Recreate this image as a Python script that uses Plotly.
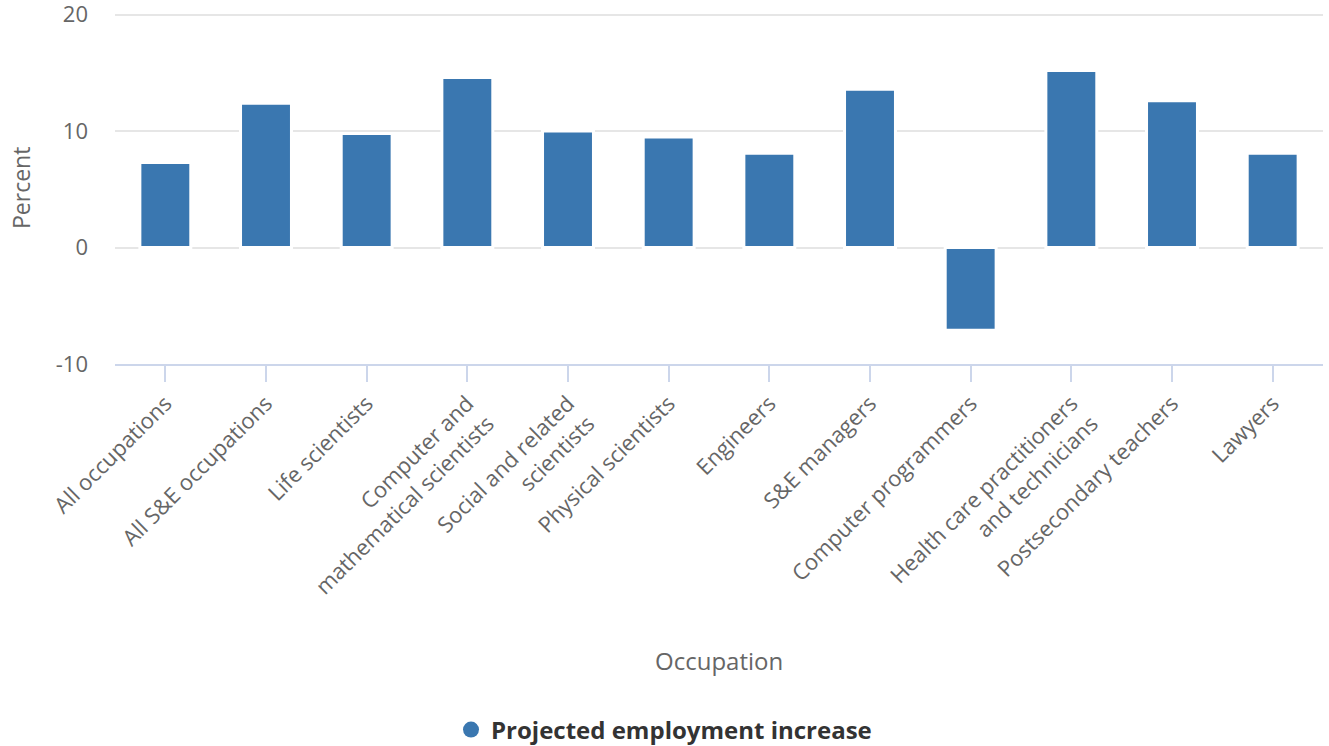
import plotly.graph_objects as go

categories = [
    "All occupations",
    "All S&E occupations",
    "Life scientists",
    "Computer and<br>mathematical scientists",
    "Social and related<br>scientists",
    "Physical scientists",
    "Engineers",
    "S&E managers",
    "Computer programmers",
    "Health care practitioners<br>and technicians",
    "Postsecondary teachers",
    "Lawyers",
]
values = [7.3, 12.4, 9.8, 14.6, 10.0, 9.5, 8.1, 13.6, -7.1, 15.2, 12.6, 8.1]
series_name = "Projected employment increase"
y_ticks = [-10, 0, 10, 20]
y_tick_labels = ["-10", "0", "10", "20"]

BAR = "#3a77b0"
FONT = "Open Sans"

W, H = 1329, 746
ML, MT, PW, PH = 115, 10, 1208, 354
MB = H - MT - PH

fig = go.Figure()
fig.add_trace(go.Bar(
    x=categories, y=values, name=series_name,
    marker=dict(color=BAR, line=dict(color="white", width=3)),
    showlegend=False,
))
# legend entry with circle symbol
fig.add_trace(go.Scatter(
    x=[None], y=[None], mode="markers", name=series_name,
    marker=dict(color=BAR, size=22, symbol="circle"),
    showlegend=True,
))

fig.update_layout(
    width=W, height=H,
    margin=dict(l=ML, r=W - ML - PW, t=MT, b=MB, pad=0),
    paper_bgcolor="white", plot_bgcolor="white",
    bargap=0.494,
    font=dict(family=FONT, color="#666666"),
    legend=dict(
        orientation="h", xref="container", yref="container",
        x=664 / W, xanchor="center", y=1 - 730 / H, yanchor="middle",
        font=dict(family=FONT, size=24, color="#333333", weight="bold"),
        itemsizing="trace",
    ),
    xaxis=dict(
        type="category",
        tickangle=-45,
        tickfont=dict(family=FONT, size=22, color="#666666"),
        showline=True, linecolor="#ccd6eb", linewidth=2,
        ticks="outside", ticklen=16, tickcolor="#ccd6eb", tickwidth=2,
        showgrid=False, automargin=False,
    ),
    yaxis=dict(
        range=[-10, 20.4], tickvals=y_ticks, ticktext=y_tick_labels,
        tickfont=dict(family=FONT, size=22, color="#666666"),
        showgrid=True, gridcolor="#e6e6e6", gridwidth=2,
        zeroline=True, zerolinecolor="#e6e6e6", zerolinewidth=2,
        showline=False, ticks="", ticklabelstandoff=26,
        automargin=False, ticklabeloverflow="allow",
    ),
    annotations=[
        dict(text="Percent", xref="paper", yref="paper",
             x=(21 - 115) / PW, y=(364 - 188) / PH,
             textangle=-90, showarrow=False,
             font=dict(family=FONT, size=23, color="#666666"),
             xanchor="center", yanchor="middle"),
        dict(text="Occupation", xref="paper", yref="paper",
             x=0.5, y=-(660 - 364) / PH, showarrow=False,
             font=dict(family=FONT, size=24, color="#666666"),
             xanchor="center", yanchor="middle"),
    ],
)

fig.write_html(
    "out.html",
    config={"displayModeBar": False},
    post_script="document.body.style.margin='0';document.body.style.overflow='hidden';",
)
